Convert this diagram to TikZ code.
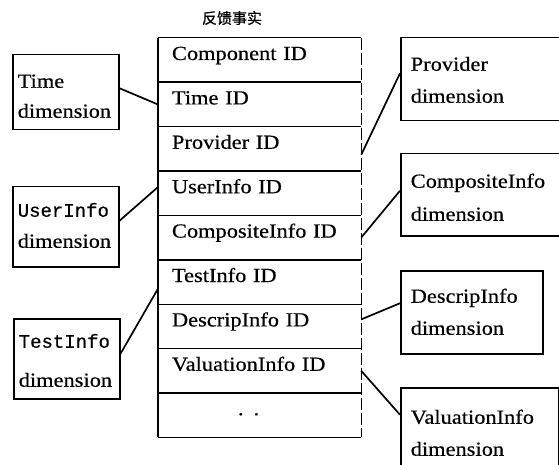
\documentclass[tikz,border=0pt]{standalone}
\usepackage{fontspec}
\usetikzlibrary{positioning}
\setmainfont{Liberation Serif}[FakeStretch=1.12,FakeBold=0.5]
\newfontfamily\scanmono{Liberation Mono}[FakeBold=0.5]
\newfontfamily\cjk{Noto Sans CJK SC}[FakeBold=0.6]
\begin{document}
\begin{tikzpicture}[x=1pt,y=-1pt,
  tabrow/.style={inner xsep=14pt, inner ysep=0pt, text width=175pt,
    align=left, text height=22pt, text depth=22pt,
    font=\fontsize{20}{24}\selectfont},
  % #1 = distance from top edge to first baseline, #2 = rest of height,
  % #3 = line spacing
  dimbox/.style n args={3}{draw, line width=1.5pt, align=left,
    inner ysep=0pt, anchor=north west, text height=#1, text depth=#2,
    font=\fontsize{20}{#3}\selectfont},
  leftbox/.style={inner xsep=5pt, text width=96pt},
  rightbox/.style={inner xsep=10pt},
  link/.style={line width=1.7pt},
  frame/.style={line width=1.4pt}]
\useasboundingbox (0,0) rectangle (559,465);

% fact table title
\node[font=\cjk\fontsize{15}{18}\selectfont] (title) at (232,18) {反馈事实};

% fact table rows
\node[tabrow] (r1) at (259.5,60) {Component ID};
\node[tabrow, below=0pt of r1] (r2) {Time ID};
\node[tabrow, below=0pt of r2] (r3) {Provider ID};
\node[tabrow, below=0pt of r3] (r4) {UserInfo ID};
\node[tabrow, below=0pt of r4] (r5) {CompositeInfo ID};
\node[tabrow, below=0pt of r5] (r6) {TestInfo ID};
\node[tabrow, below=0pt of r6] (r7) {DescripInfo ID};
\node[tabrow, below=0pt of r7] (r8) {ValuationInfo ID};
\node[tabrow, below=0pt of r8] (r9) {\hspace*{66pt}. .};

% table frame and row separators
\draw[frame] (r1.north west) -- (r1.north east);
\foreach \r in {r1,r2,r3,r4,r5,r6,r7,r8,r9}
  \draw[frame] (\r.south west) -- (\r.south east);
\draw[frame] (r1.north west) -- (r9.south west);
\draw[frame, dash pattern=on 12pt off 3pt] (r1.north east) -- (r9.south east);

% dimension tables on the left
\node[dimbox={33pt}{42pt}{30pt}, leftbox] (tdim) at (12,54) {Time\\dimension};
\node[dimbox={30pt}{50pt}{31pt}, leftbox] (udim) at (12,186)
  {{\scanmono\fontsize{19}{31}\selectfont UserInfo}\\dimension};
\node[dimbox={29pt}{51pt}{39pt}, leftbox] (sdim) at (13,318)
  {{\scanmono\fontsize{19}{39}\selectfont TestInfo}\\dimension};

% dimension tables on the right
\node[dimbox={33pt}{50pt}{32pt}, rightbox, text width=150pt] (pdim) at (400,37)
  {Provider\\dimension};
\node[dimbox={34pt}{48pt}{33pt}, rightbox, text width=150pt] (cdim) at (400,153)
  {CompositeInfo\\dimension};
\node[dimbox={32pt}{51pt}{32pt}, rightbox, text width=122pt] (ddim) at (400,270)
  {DescripInfo\\dimension};
\node[dimbox={36pt}{44pt}{32pt}, rightbox, text width=138pt] (vdim) at (400,387)
  {ValuationInfo\\dimension};

% links between dimension tables and fact table keys
\draw[link] ([yshift=4pt]tdim.east) -- (r2.west);
\draw[link] ([yshift=6pt]udim.east) -- ([yshift=6pt]r4.west);
\draw[link] ([yshift=5pt]sdim.east) -- ([yshift=-7pt]r6.west);
\draw[link] ([yshift=6pt]pdim.west) -- ([yshift=-6pt]r3.east);
\draw[link] ([yshift=4pt]cdim.west) -- (r5.east);
\draw[link] ([yshift=9pt]ddim.west) -- ([yshift=7pt]r7.east);
\draw[link] ([yshift=13pt]vdim.west) -- (r8.east);
\end{tikzpicture}
\end{document}
